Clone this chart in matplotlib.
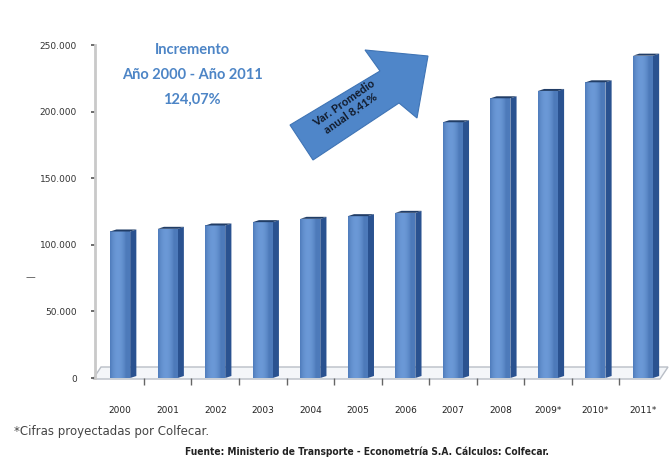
import numpy as np
import matplotlib
matplotlib.use("Agg")
import matplotlib.pyplot as plt
from matplotlib.patches import Polygon
from matplotlib.ticker import FixedLocator, FuncFormatter

# Parque automotor de carga (vehículos), 2000-2011
years = ["2000", "2001", "2002", "2003", "2004", "2005", "2006",
         "2007", "2008", "2009*", "2010*", "2011*"]
vehicles = [110000, 112000, 114500, 117000, 119500, 121500, 124000,
            192000, 210000, 215500, 222000, 242000]
y_ticks = [0, 50000, 100000, 150000, 200000, 250000]

W, H = 669, 468
fig = plt.figure(figsize=(W / 100, H / 100), dpi=100)
fig.patch.set_facecolor("white")

# background layer (pixel coordinates) for the 3D floor
bg = fig.add_axes([0, 0, 1, 1], zorder=0)
bg.set_xlim(0, W)
bg.set_ylim(H, 0)
bg.axis("off")
floor = Polygon([(93, 379), (660, 379), (668, 367), (101, 367)],
                closed=True, facecolor="#f4f6f9", edgecolor="#b9bec6", lw=1.0)
bg.add_patch(floor)

# main chart axes
x0, x1 = 95, 662
y_top, y_bot = 45, 378
ax = fig.add_axes([x0 / W, (H - y_bot) / H, (x1 - x0) / W, (y_bot - y_top) / H],
                  zorder=1)
ax.patch.set_visible(False)
n = len(years)
x = np.arange(n)
ax.set_xlim(-0.53, n - 1 + 0.40)
ax.set_ylim(0, 250000)

front_w = 0.42
side_w = 0.13
lift = 1500

front_col = "#4477bb"
side_col = "#2a5290"
top_col = "#213d66"

grad = np.linspace(0, 1, 64)
prof = 0.5 + 0.5 * np.sin(np.clip(grad * 1.25, 0, 1) * np.pi) ** 0.8
light = np.array([0.42, 0.60, 0.84])
dark = np.array([0.19, 0.36, 0.62])
img = dark[None, :] + (light - dark)[None, :] * prof[:, None]
img = img[None, :, :]

for xi, v in zip(x, vehicles):
    left = xi - front_w / 2
    right = xi + front_w / 2
    bars = ax.bar(xi, v, width=front_w, color=front_col, zorder=3, lw=0)
    im = ax.imshow(img, extent=[left, right, 0, v], aspect="auto",
                   zorder=3.5, interpolation="bilinear")
    im.set_clip_path(bars[0])
    side = Polygon([(right, 0), (right + side_w, lift), (right + side_w, v + lift),
                    (right, v)], closed=True, facecolor=side_col, lw=0, zorder=3)
    ax.add_patch(side)
    top = Polygon([(left, v), (right, v), (right + side_w, v + lift),
                   (left + side_w, v + lift)], closed=True,
                  facecolor=top_col, lw=0, zorder=4)
    ax.add_patch(top)

# axes styling
for s in ["top", "right", "bottom"]:
    ax.spines[s].set_visible(False)
ax.spines["left"].set_color("#c9c9c9")
ax.spines["left"].set_linewidth(2.0)
ax.yaxis.set_major_locator(FixedLocator(y_ticks))
ax.yaxis.set_major_formatter(FuncFormatter(lambda v, p: f"{int(v):,}".replace(",", ".")))
ax.tick_params(axis="y", length=3, width=1.2, color="#555555", pad=10,
               labelsize=6.5, labelcolor="#333333")
ax.set_xticks(x)
ax.set_xticklabels(years)
ax.set_xticks(x[:-1] + 0.5, minor=True)
ax.tick_params(axis="x", which="major", length=0, pad=20, labelsize=6.5,
               labelcolor="#222222")
ax.tick_params(axis="x", which="minor", length=5, width=1.0, color="#666666",
               direction="out")

# foreground annotations (pixel coordinates)
fg = fig.add_axes([0, 0, 1, 1], zorder=2)
fg.set_xlim(0, W)
fg.set_ylim(H, 0)
fg.axis("off")

blue_txt = "#4d85c6"
fg.text(192, 50, "Incremento", ha="center", va="center", fontsize=10.5,
        fontweight="bold", color=blue_txt, family="Lato")
fg.text(192, 75, "Año 2000 - Año 2011", ha="center", va="center", fontsize=10.5,
        fontweight="bold", color=blue_txt, family="Lato")
fg.text(192, 100, "124,07%", ha="center", va="center", fontsize=10.5,
        fontweight="bold", color=blue_txt, family="Lato")

# block arrow
arrow = Polygon([(290, 125), (380, 71), (365, 50), (428, 56), (417, 118),
                 (399, 103), (313, 160)], closed=True,
                facecolor="#4f86c9", edgecolor="#3f74b5", lw=0.8)
fg.add_patch(arrow)
fg.text(347, 108, "Var. Promedio\nanual 8,41%", ha="center", va="center",
        rotation=35, fontsize=8.2, fontweight="bold", color="#111a2a",
        family="Lato", linespacing=1.0)

fg.text(30, 277, "—", ha="center", va="center", fontsize=7, color="#555555")

fg.text(14, 432, "*Cifras proyectadas por Colfecar.", ha="left", va="center",
        fontsize=8.5, color="#444444", family="DejaVu Sans")
fg.text(367, 452, "Fuente: Ministerio de Transporte - Econometría S.A. Cálculos: Colfecar.",
        ha="center", va="center", fontsize=7.3, fontweight="bold",
        color="#222222", family="DejaVu Sans", fontstretch="condensed")

fig.savefig("out.png", dpi=100, facecolor="white")
